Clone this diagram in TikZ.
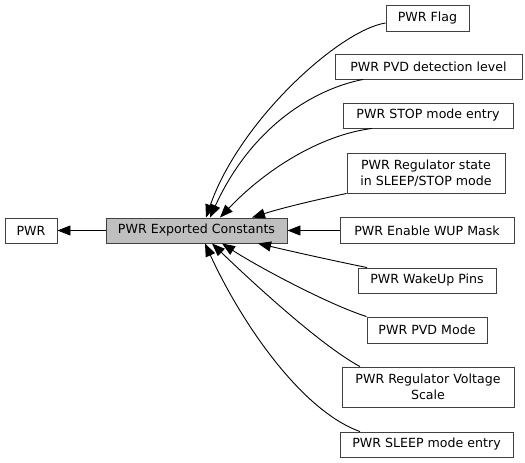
\documentclass[tikz,border=0pt]{standalone}
\usepackage{fontspec}
\setmainfont{DejaVu Sans}
\usetikzlibrary{arrows.meta}
\begin{document}
\begin{tikzpicture}[x=1pt,y=-1pt,
  box/.style={draw=black!75, line width=0.9pt, fill=white, inner sep=0pt, align=center,
    font=\fontsize{12.6}{16}\selectfont},
  hl/.style={box, fill=black!25},
  arr/.style={line width=0.9pt, -{Triangle[length=13pt,width=10pt]}}]
\useasboundingbox (0,0) rectangle (525,463);
\node[box, minimum width=52, minimum height=25] (pwr) at (31,230.5) {PWR};
\node[hl, minimum width=181, minimum height=25] (pec) at (196.5,230.5) {PWR Exported Constants};
\node[box, minimum width=83, minimum height=26] (flag) at (427.5,18) {PWR Flag};
\node[box, minimum width=187, minimum height=25] (pvdl) at (428.5,66.5) {PWR PVD detection level};
\node[box, minimum width=170, minimum height=25] (stop) at (428,115.5) {PWR STOP mode entry};
\node[box, minimum width=158, minimum height=40] (regs) at (426,173) {PWR Regulator state\\ in SLEEP/STOP mode};
\node[box, minimum width=174, minimum height=26] (wup) at (427,230.5) {PWR Enable WUP Mask};
\node[box, minimum width=138, minimum height=25] (wake) at (427,280.5) {PWR WakeUp Pins};
\node[box, minimum width=120, minimum height=26] (pvdm) at (427,330) {PWR PVD Mode};
\node[box, minimum width=172, minimum height=40] (regv) at (428,387) {PWR Regulator Voltage\\Scale};
\node[box, minimum width=173, minimum height=25] (sleep) at (426.5,444.5) {PWR SLEEP mode entry};

\draw[arr] (pec.west) -- (pwr.east);
\draw[arr] ([yshift=-5pt]flag.west) .. controls (340,30) and (240,120) .. ([xshift=9.5pt]pec.north);
\draw[arr] ([xshift=-65.5pt]pvdl.south) .. controls (310,90) and (250,130) .. ([xshift=13.5pt]pec.north);
\draw[arr] ([xshift=-56pt]stop.south) .. controls (320,135) and (265,170) .. ([xshift=23.5pt]pec.north);
\draw[arr] (regs.south west) .. controls (320,199) and (285,207) .. ([xshift=55.5pt]pec.north);
\draw[arr] (wup.west) -- (pec.east);
\draw[arr] ([xshift=-60pt]wake.north) .. controls (330,260) and (290,251) .. ([xshift=61.5pt]pec.south);
\draw[arr] (pvdm.north west) .. controls (330,305) and (260,268) .. ([xshift=25.5pt]pec.south);
\draw[arr] ([xshift=-68pt]regv.north) .. controls (320,345) and (250,280) .. ([xshift=15.5pt]pec.south);
\draw[arr] ([xshift=-66.5pt]sleep.north) .. controls (300,410) and (240,320) .. ([xshift=8.5pt]pec.south);
\end{tikzpicture}
\end{document}
